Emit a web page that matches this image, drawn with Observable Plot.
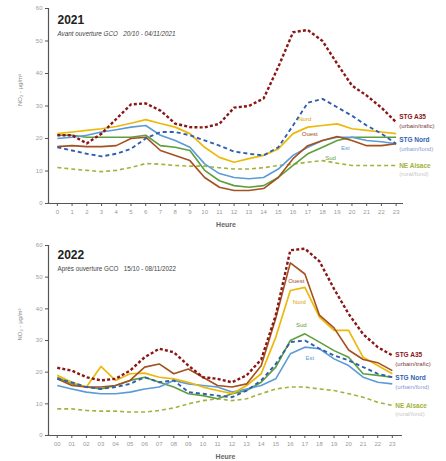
<!DOCTYPE html>
<html>
<head>
<meta charset="utf-8">
<script src="https://cdn.jsdelivr.net/npm/d3@7"></script>
<script src="https://cdn.jsdelivr.net/npm/@observablehq/plot@0.6"></script>
<style>
  html, body { margin: 0; padding: 0; background: #fff; }
  #root { width: 446px; height: 461px; position: relative; overflow: hidden; }
  #root svg { display: block; }
</style>
</head>
<body>
<div id="root"></div>
<script>
const hours = d3.range(24);
const yTicks = [0, 10, 20, 30, 40, 50, 60];

// 2021 – Avant ouverture GCO
const a35_2021   = [21, 21, 18.5, 21.5, 26, 30.5, 30.8, 28.6, 24.6, 23.5, 23.4, 24.5, 29.5, 30, 32.3, 42, 52.7, 53.4, 50, 43, 36.3, 33.2, 29.5, 25];
const nord_2021  = [17.3, 16.3, 15.3, 14.5, 15.3, 16.8, 20, 22, 22, 21, 19.4, 17.8, 16, 15.3, 14.8, 17.3, 24, 31, 32.2, 29.6, 27, 24, 21.5, 18.4];
const rural_2021 = [11.1, 10.6, 10.2, 9.8, 10.2, 11.1, 12.3, 12.1, 11.7, 11.5, 11.5, 11, 10.6, 10.6, 11, 11.7, 12.1, 12.7, 13.2, 12.4, 11.7, 11.7, 11.7, 11.7];
const yellow_2021 = [21.5, 22, 22.5, 23, 23.7, 24.7, 25.8, 24.6, 23.5, 21.5, 17.3, 14.2, 12.7, 13.8, 14.8, 16.8, 21.5, 23.5, 24, 24.5, 23, 22.5, 22, 21.5];
const blue_2021  = [20, 20.4, 21, 22, 22.7, 23.5, 24, 21, 19.4, 17.3, 12.2, 9.2, 8, 7.6, 8, 10.6, 14.8, 17.3, 19.4, 20.4, 20.4, 19.4, 19, 18.4];
const green_2021 = [21, 21, 20.4, 20.4, 20.4, 20.4, 21, 17.8, 17.3, 16.3, 10.2, 7, 5.5, 5, 5.5, 8, 11.7, 15.3, 17.3, 19.4, 20.4, 20.4, 20.4, 20.4];
const brown_2021 = [17.5, 17.8, 17.5, 17.5, 17.8, 20, 20.4, 16.3, 14.8, 13.2, 8, 5, 4, 4, 4.6, 8, 13.8, 17.8, 19.4, 20.6, 19.4, 17.8, 17.8, 18.4];

// 2022 – Après ouverture GCO
const a35_2022   = [21.4, 20.5, 18.4, 17.4, 17.9, 20.5, 24.7, 27.4, 26.3, 22.1, 18.4, 17.9, 16.8, 19, 24, 38, 58.5, 59, 55, 46.3, 38.4, 32, 27.9, 25.3];
const nord_2022  = [17.9, 16.8, 15.3, 14.7, 15.3, 16.3, 18.4, 16.8, 17.4, 13.7, 13.2, 12.6, 12.1, 14.2, 17.4, 22.6, 29.5, 30, 27.4, 25.3, 23.7, 21.6, 19.5, 18.4];
const rural_2022 = [8.4, 8.4, 7.9, 7.7, 7.7, 7.4, 7.4, 7.9, 8.7, 10, 11, 11.6, 11, 11.6, 13.2, 14.7, 15.3, 15.3, 14.7, 14.2, 13.2, 12.1, 10.5, 9.5];
const yellow_2022 = [19, 16.8, 15.3, 21.8, 17.4, 19.5, 19.7, 18.4, 17.9, 16.8, 15.3, 14.2, 13.2, 15.8, 19.5, 31, 45.8, 46.8, 37.4, 33.2, 33.2, 24.7, 22.1, 19.5];
const blue_2022  = [15.8, 14.7, 13.7, 13.2, 13.2, 13.7, 14.7, 15.3, 17.4, 16.3, 15.8, 15.3, 13.7, 14.7, 15.8, 17.9, 25.8, 27.9, 27.4, 24.2, 22.1, 18.4, 16.8, 16.3];
const green_2022 = [18.4, 16.3, 15.3, 14.7, 15.8, 17.4, 18.4, 16.8, 15.3, 13.2, 12.6, 11.6, 13.2, 14.2, 16.8, 21.6, 30, 32.1, 29.5, 26.8, 24.7, 19.5, 19, 18.4];
const brown_2022 = [17.9, 15.8, 15.3, 15.3, 15.8, 17.4, 21.6, 22.6, 19.5, 21, 18.4, 15.8, 15.3, 16.3, 22, 37, 54.5, 51, 38, 34, 27, 24, 23, 20.5];

const stationNames = ["STG A35", "STG Nord", "NE Alsace"];
const stationTypes = ["(urbain/trafic)", "(urbain/fond)", "(rural/fond)"];
const sensorNames = ["Nord", "Ouest", "Est", "Sud"];

const COL = {
  a35: "#8a1616", nord: "#2f5fb0", rural: "#a3b23a",
  yellow: "#ecb90a", blue: "#5b9bd8", green: "#5f9e3c", brown: "#a4501f"
};

const font = "'Liberation Sans', 'DejaVu Sans', sans-serif";

function rows(values) { return values.map((v, i) => ({hour: i, value: v})); }

function panel(cfg) {
  const s = cfg.series;
  const lineOpts = {x: "hour", y: "value", curve: "linear", strokeLinecap: "butt"};
  const marks = [
    Plot.axisY({ticks: yTicks, tickSize: 3, tickPadding: 3, fontSize: 6, color: "#9a9a9a", stroke: "#555", label: null}),
    Plot.axisX({ticks: hours, tickSize: 3, tickPadding: 3, fontSize: 6, color: "#9a9a9a", stroke: "#555", tickFormat: cfg.tickFormat, label: null}),
    Plot.ruleX([cfg.xDomain[0]], {stroke: "#555", strokeWidth: 1.2}),
    Plot.ruleY([0], {stroke: "#555", strokeWidth: 1.2}),
    Plot.line(rows(s.rural), {...lineOpts, stroke: COL.rural, strokeWidth: 1.6, strokeDasharray: "4,3"}),
    Plot.line(rows(s.green), {...lineOpts, stroke: COL.green, strokeWidth: 1.6}),
    Plot.line(rows(s.blue), {...lineOpts, stroke: COL.blue, strokeWidth: 1.6}),
    Plot.line(rows(s.yellow), {...lineOpts, stroke: COL.yellow, strokeWidth: 1.7}),
    Plot.line(rows(s.brown), {...lineOpts, stroke: COL.brown, strokeWidth: 1.6}),
    Plot.line(rows(s.nord), {...lineOpts, stroke: COL.nord, strokeWidth: 1.9, strokeDasharray: "4,3"}),
    Plot.line(rows(s.a35), {...lineOpts, stroke: COL.a35, strokeWidth: 2.4, strokeDasharray: "3,2.2"}),
    // title + subtitle
    Plot.text([cfg.year], {frameAnchor: "top-left", dx: 9, dy: cfg.titleDy, fontSize: 12, fontWeight: "bold", fill: "#222", textAnchor: "start", lineAnchor: "middle"}),
    Plot.text([cfg.subtitle], {frameAnchor: "top-left", dx: 9, dy: cfg.titleDy + 13, fontSize: 6.3, fontStyle: cfg.italic ? "italic" : "normal", fill: "#444", textAnchor: "start", lineAnchor: "middle"}),
    // axis labels
    Plot.text(["Heure"], {frameAnchor: "bottom", dy: 23, fontSize: 7, fontWeight: "bold", fill: "#666"}),
    Plot.text(["NO\u2082 - \u00b5g/m\u00b3"], {frameAnchor: "left", dx: -28, rotate: -90, fontSize: 6, fill: "#888"}),
  ];
  // station labels at right end
  const last = [s.a35, s.nord, s.rural].map(a => a[a.length - 1]);
  const stCols = [COL.a35, COL.nord, COL.rural];
  const subCols = ["#7a3a3a", "#8a98d8", "#c8c8c8"];
  stationNames.forEach((name, i) => {
    marks.push(Plot.text([{hour: 23, value: last[i]}], {x: "hour", y: "value", text: () => name, dx: 3, dy: cfg.stDy[i], fontSize: 6.5, fontWeight: "bold", fill: stCols[i], textAnchor: "start"}));
    marks.push(Plot.text([{hour: 23, value: last[i]}], {x: "hour", y: "value", text: () => stationTypes[i], dx: 3, dy: cfg.stDy[i] + 9, fontSize: 6, fill: subCols[i], textAnchor: "start"}));
  });
  // inline sensor labels
  const sensorArr = [s.yellow, s.brown, s.blue, s.green];
  const sensorCols = ["#d9a400", COL.brown, COL.blue, COL.green];
  sensorNames.forEach((name, i) => {
    const h = cfg.lab[i][0];
    marks.push(Plot.text([{hour: h, value: sensorArr[i][h]}], {x: "hour", y: "value", text: () => name, dx: cfg.lab[i][2], dy: cfg.lab[i][1], fontSize: 6, fill: sensorCols[i]}));
  });
  return Plot.plot({
    width: 446,
    height: cfg.height,
    marginLeft: 48,
    marginRight: cfg.marginRight,
    marginTop: cfg.marginTop,
    marginBottom: cfg.marginBottom,
    x: {domain: cfg.xDomain},
    y: {domain: [0, 60]},
    style: {fontFamily: font, fontSize: "6px", background: "transparent", overflow: "visible"},
    marks
  });
}

const root = document.getElementById("root");
root.append(panel({
  year: "2021",
  subtitle: "Avant ouverture GCO   20/10 - 04/11/2021",
  italic: true,
  titleDy: 12,
  height: 230, marginTop: 8, marginBottom: 27, marginRight: 43,
  xDomain: [-0.6, 23.5],
  tickFormat: d => String(d),
  series: {a35: a35_2021, nord: nord_2021, rural: rural_2021, yellow: yellow_2021, blue: blue_2021, green: green_2021, brown: brown_2021},
  stDy: [-5, -4, 0],
  lab: [[17, -8, -3], [17, -12, 2], [19, 11, 8], [18, 11, 8]]
}));
root.append(panel({
  year: "2022",
  subtitle: "Apr\u00e8s ouverture GCO   15/10 - 08/11/2022",
  italic: false,
  titleDy: 10,
  height: 231, marginTop: 15, marginBottom: 26, marginRight: 44,
  xDomain: [-0.6, 23.7],
  tickFormat: d => String(d).padStart(2, "0"),
  series: {a35: a35_2022, nord: nord_2022, rural: rural_2022, yellow: yellow_2022, blue: blue_2022, green: green_2022, brown: brown_2022},
  stDy: [0, 1, 0],
  lab: [[16, 12, 9], [16, 18, 6], [17, 11, 5], [16, -15, 11]]
}));
</script>
</body>
</html>
